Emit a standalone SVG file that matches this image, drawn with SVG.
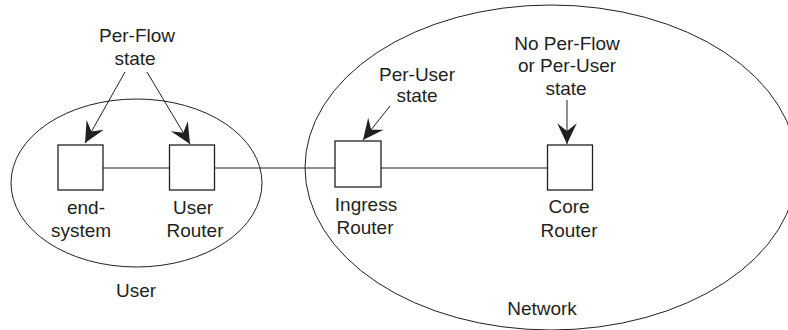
<svg xmlns="http://www.w3.org/2000/svg" width="788" height="330" viewBox="0 0 788 330">
  <style>
    .outline { fill: none; stroke: #231f20; stroke-width: 1; }
    .box { fill: #ffffff; stroke: #231f20; stroke-width: 1.3; }
    .link { fill: none; stroke: #231f20; stroke-width: 1.2; }
    .pointer { fill: none; stroke: #231f20; stroke-width: 1; }
    text { font-family: "Liberation Sans", Arial, sans-serif; font-size: 19px; fill: #231f20; text-anchor: middle; }
  </style>
  <defs>
    <marker id="dart" markerUnits="userSpaceOnUse" markerWidth="24" markerHeight="24" viewBox="-20 -10 22 20" refX="0" refY="0" orient="auto">
      <path d="M0,0 L-19,-9 L-12,0 L-19,9 Z" fill="#231f20"/>
    </marker>
  </defs>

  <!-- domains -->
  <g id="user-domain">
    <ellipse class="outline" cx="136.5" cy="183" rx="125.5" ry="84"/>
    <text x="136" y="297">User</text>
  </g>
  <g id="network-domain">
    <ellipse class="outline" cx="551" cy="167.5" rx="246" ry="162.5"/>
    <text x="542" y="315">Network</text>
  </g>

  <!-- connectors -->
  <g id="connectors">
    <line class="link" x1="103" y1="168" x2="169" y2="168"/>
    <line class="link" x1="215" y1="168" x2="335" y2="168"/>
    <line class="link" x1="381" y1="168" x2="547" y2="168"/>
    <line class="pointer" x1="125" y1="72" x2="85" y2="143" marker-end="url(#dart)"/>
    <line class="pointer" x1="147" y1="72" x2="190" y2="144" marker-end="url(#dart)"/>
    <line class="pointer" x1="390" y1="106" x2="363" y2="140" marker-end="url(#dart)"/>
    <line class="pointer" x1="567" y1="100" x2="567" y2="144" marker-end="url(#dart)"/>
  </g>

  <!-- nodes -->
  <g id="end-system">
    <rect class="box" x="58" y="145" width="45" height="45"/>
    <text x="86" y="214">end-</text>
    <text x="81" y="237">system</text>
  </g>
  <g id="user-router">
    <rect class="box" x="169.5" y="145" width="45" height="45"/>
    <text x="193" y="214">User</text>
    <text x="195" y="237">Router</text>
  </g>
  <g id="ingress-router">
    <rect class="box" x="335" y="141" width="46" height="46"/>
    <text x="366" y="211">Ingress</text>
    <text x="365" y="234">Router</text>
  </g>
  <g id="core-router">
    <rect class="box" x="547.5" y="145" width="45" height="45"/>
    <text x="569" y="213">Core</text>
    <text x="569" y="237">Router</text>
  </g>

  <!-- state annotations -->
  <g id="per-flow-label">
    <text x="137" y="42">Per-Flow</text>
    <text x="135" y="65">state</text>
  </g>
  <g id="per-user-label">
    <text x="417" y="81">Per-User</text>
    <text x="417" y="102">state</text>
  </g>
  <g id="core-label">
    <text x="567" y="50">No Per-Flow</text>
    <text x="567" y="72">or Per-User</text>
    <text x="566" y="95">state</text>
  </g>
</svg>
